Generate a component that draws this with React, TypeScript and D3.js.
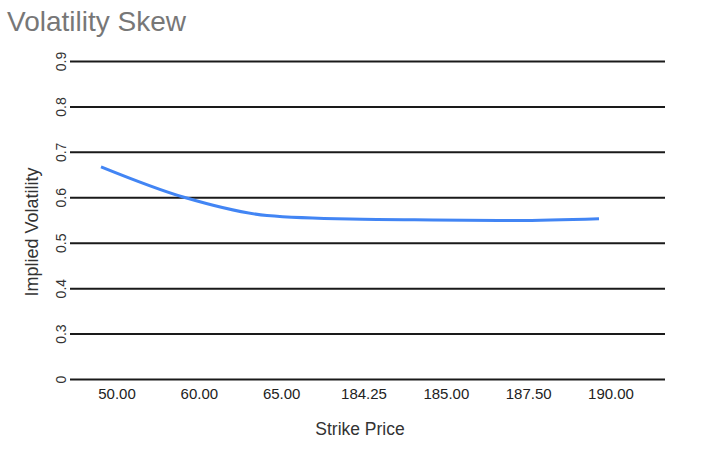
import React, { useRef, useEffect } from 'react';
import * as d3 from 'd3';

const strikes = ['50.00', '60.00', '65.00', '184.25', '185.00', '187.50', '190.00'];
const impliedVol = [0.667, 0.6, 0.56, 0.552, 0.55, 0.549, 0.553];
const yTicks = [0.2, 0.3, 0.4, 0.5, 0.6, 0.7, 0.8, 0.9];
const yTickLabels = ['0', '0.3', '0.4', '0.5', '0.6', '0.7', '0.8', '0.9'];

const font = '"Liberation Sans", Arial, Helvetica, sans-serif';

const App = () => {
  const ref = useRef<SVGSVGElement>(null);

  useEffect(() => {
    if (!ref.current) return;
    const svg = d3.select(ref.current);
    svg.selectAll('*').remove();

    const width = 720;
    const height = 458;
    const left = 70;
    const right = 665;
    const top = 61;
    const bottom = 379;

    const y = d3.scaleLinear().domain([0.2, 0.9]).range([bottom, top]);
    // points of the line
    const x = d3.scalePoint().domain(strikes).range([101, 599]);
    // tick labels sit a bit to the right of the points
    const xLabel = d3.scalePoint().domain(strikes).range([117, 611]);

    // title
    svg
      .append('text')
      .text('Volatility Skew')
      .attr('x', 7)
      .attr('y', 31)
      .attr('font-size', 28)
      .attr('fill', '#777')
      .style('font-family', font);

    // y axis + gridlines
    const yAxis = svg
      .append('g')
      .attr('transform', `translate(${left},0)`)
      .call(
        d3
          .axisLeft(y)
          .tickValues(yTicks)
          .tickSize(-(right - left))
          .tickPadding(0)
          .tickFormat((d, i) => yTickLabels[i])
      );
    yAxis.select('.domain').remove();
    yAxis.selectAll('.tick line').attr('stroke', '#1a1a1a').attr('stroke-width', 2);
    yAxis
      .selectAll('.tick text')
      .attr('x', null)
      .attr('dy', null)
      .attr('transform', 'translate(-4,0) rotate(-90)')
      .attr('text-anchor', 'middle')
      .attr('font-size', 14)
      .attr('fill', '#333')
      .style('font-family', font);

    // x labels
    svg
      .append('g')
      .selectAll('text')
      .data(strikes)
      .enter()
      .append('text')
      .text((d) => d)
      .attr('x', (d) => xLabel(d) as number)
      .attr('y', bottom + 20)
      .attr('text-anchor', 'middle')
      .attr('font-size', 15)
      .attr('fill', '#222')
      .style('font-family', font);

    // line
    const line = d3
      .line<number>()
      .x((d, i) => x(strikes[i]) as number)
      .y((d) => y(d))
      .curve(d3.curveMonotoneX);

    svg
      .append('path')
      .datum(impliedVol)
      .attr('d', line)
      .attr('fill', 'none')
      .attr('stroke', '#4285f4')
      .attr('stroke-width', 3);

    // axis titles
    svg
      .append('text')
      .text('Strike Price')
      .attr('x', 360)
      .attr('y', 435)
      .attr('text-anchor', 'middle')
      .attr('font-size', 17.5)
      .attr('fill', '#333')
      .style('font-family', font);

    svg
      .append('text')
      .text('Implied Volatility')
      .attr('transform', 'translate(38,232) rotate(-90)')
      .attr('text-anchor', 'middle')
      .attr('font-size', 18)
      .attr('fill', '#333')
      .style('font-family', font);

    svg.attr('width', width).attr('height', height);
  }, []);

  return <svg ref={ref} style={{ position: 'absolute', left: 0, top: 0 }} />;
};

export default App;
